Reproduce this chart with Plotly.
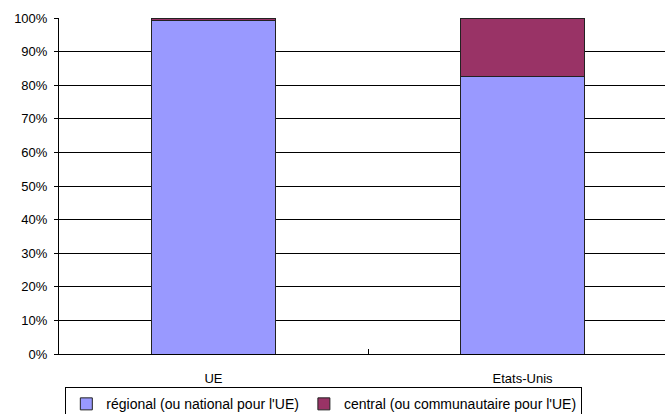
import plotly.graph_objects as go

categories = ["UE", "Etats-Unis"]
regional = [0.992, 0.825]
central = [0.008, 0.175]
series_names = ["régional (ou national pour l'UE)", "central (ou communautaire pour l'UE)"]
ytick_vals = [i / 10 for i in range(11)]
ytick_text = [f"{i*10}%" for i in range(11)]

fig = go.Figure()
fig.add_trace(go.Bar(x=categories, y=regional, name=series_names[0], width=0.4,
                     marker=dict(color="#9999FF", line=dict(color="#222222", width=1))))
fig.add_trace(go.Bar(x=categories, y=central, name=series_names[1], width=0.4,
                     marker=dict(color="#993366", line=dict(color="#222222", width=1))))

fig.update_layout(
    barmode="stack",
    width=665, height=414,
    margin=dict(l=59, r=0, t=18, b=60, autoexpand=False),
    paper_bgcolor="white", plot_bgcolor="white",
    font=dict(family="Liberation Sans, Arial, sans-serif", size=13, color="black"),
    showlegend=True,
    legend=dict(orientation="h", x=0.437, xanchor="center", y=-0.099, yanchor="top",
                bordercolor="black", borderwidth=1, font=dict(size=14),
                traceorder="normal", itemwidth=30, tracegroupgap=0),
    xaxis=dict(type="category", range=[-0.5, 1.461], showline=True, linecolor="black",
               linewidth=1, ticks="inside", ticklen=5, tickcolor="black",
               tickson="boundaries", showgrid=False, ticklabelstandoff=12,
               tickfont=dict(size=13), automargin=False),
    yaxis=dict(range=[0, 1], tickvals=ytick_vals, ticktext=ytick_text, showgrid=True,
               gridcolor="black", gridwidth=1, showline=True, linecolor="black",
               linewidth=1, ticks="outside", ticklen=4, tickcolor="black",
               ticklabelstandoff=4, zeroline=False, tickfont=dict(size=13),
               automargin=False),
)

fig.write_html("out.html", config={"displayModeBar": False},
               post_script="document.body.style.margin='0';document.body.style.overflow='hidden';")
